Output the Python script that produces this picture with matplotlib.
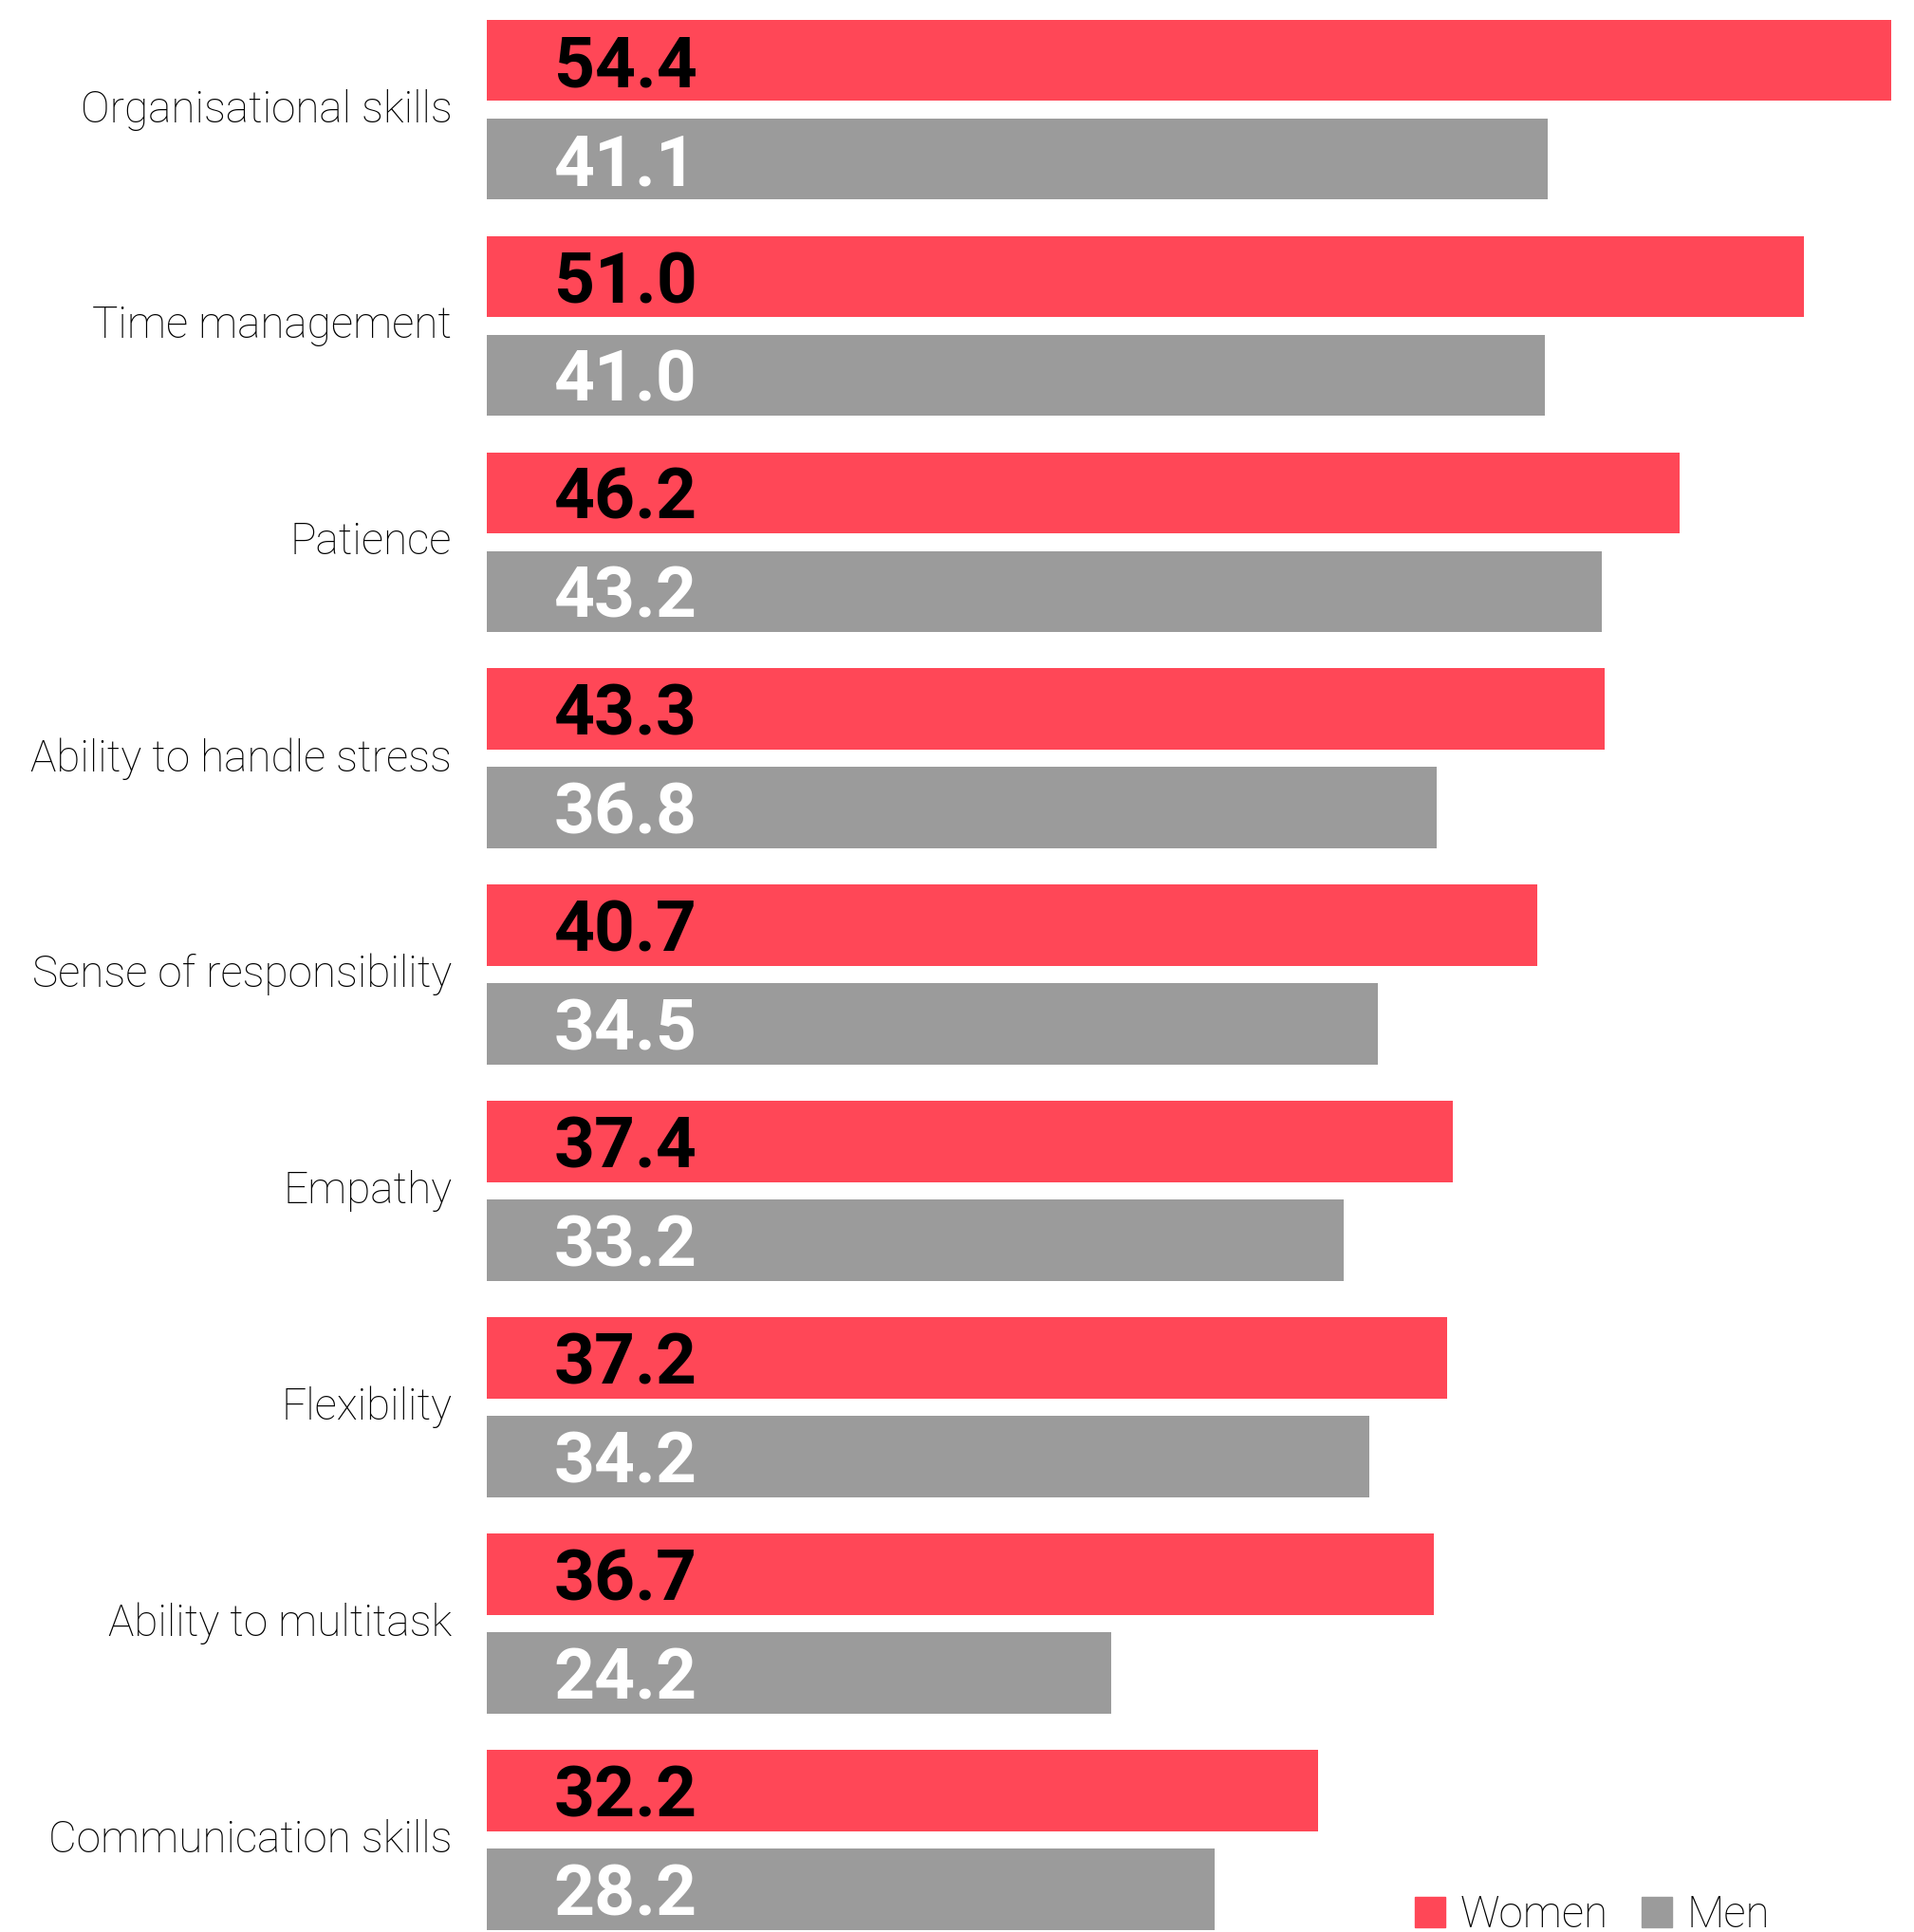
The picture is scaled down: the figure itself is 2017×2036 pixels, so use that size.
import matplotlib
matplotlib.use("Agg")
from matplotlib import pyplot as plt
from matplotlib.patches import Patch
import numpy as np

# skills, share of women / men naming each one (%)
habilidades = ["Organisational skills", "Time management", "Patience",
               "Ability to handle stress", "Sense of responsibility", "Empathy",
               "Flexibility", "Ability to multitask", "Communication skills"]
mujeres = [54.4, 51.0, 46.2, 43.3, 40.7, 37.4, 37.2, 36.7, 32.2]
hombres = [41.1, 41.0, 43.2, 36.8, 34.5, 33.2, 34.2, 24.2, 28.2]
series = ["Women", "Men"]

ROJO = "#FF4757"
GRIS = "#9B9B9B"

W, H = 2017, 2036
fig = plt.figure(figsize=(W / 100, H / 100), dpi=100)
ax = fig.add_axes([513 / W, 0, 1480 / W, 1])

y = np.arange(len(habilidades))
alto = 0.376
desp = 0.228

ax.barh(y - desp, mujeres, height=alto, color=ROJO, label=series[0])
ax.barh(y + desp, hombres, height=alto, color=GRIS, label=series[1])

ax.set_xlim(0, 54.4)
ax.set_ylim(8.426, -0.507)
ax.axis("off")

# numeros dentro de las barras
for i in range(len(habilidades)):
    ax.text(2.6, y[i] - desp, f"{mujeres[i]:.1f}", color="black",
            fontsize=54, fontweight="bold", family="Roboto",
            va="center_baseline", ha="left")
    ax.text(2.6, y[i] + desp, f"{hombres[i]:.1f}", color="white",
            fontsize=54, fontweight="bold", family="Roboto",
            va="center_baseline", ha="left")

# etiquetas de las categorias
for i, nombre in enumerate(habilidades):
    ax.text(-1.35, y[i], nombre, fontsize=33, family="Roboto",
            fontweight="light", color="black", ha="right", va="center")

# leyenda abajo a la derecha, pegada al borde
handles = [Patch(color=ROJO, label=series[0]), Patch(color=GRIS, label=series[1])]
fig.legend(handles=handles, loc="upper left",
           bbox_to_anchor=(1491 / W, 1 - 1996 / H), ncol=2, frameon=False,
           prop={"family": "Roboto", "weight": "light", "size": 33},
           handlelength=0.7, handleheight=0.7, handletextpad=0.34,
           columnspacing=0.77, borderpad=0, borderaxespad=0)

fig.savefig("out.png", dpi=100)
